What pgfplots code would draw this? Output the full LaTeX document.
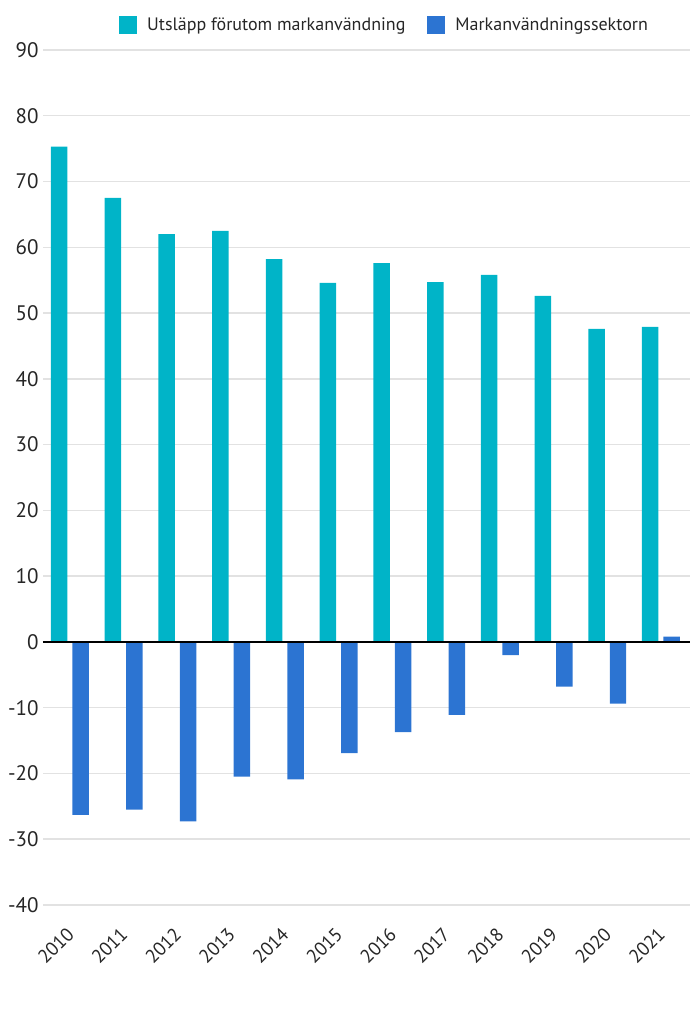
\documentclass[border=0pt]{standalone}
\usepackage{pgfplots}
\pgfplotsset{compat=1.18}
\usepackage{fontspec}
\setmainfont{PT Sans}
\definecolor{teal1}{RGB}{0,180,200}
\definecolor{blue1}{RGB}{44,116,210}
\definecolor{grid1}{RGB}{226,226,226}
\begin{document}
\begin{tikzpicture}
\useasboundingbox (-43pt,-119pt) rectangle (647pt,905pt);
\begin{axis}[
  at={(0pt,0pt)}, anchor=south west,
  scale only axis,
  width=647pt, height=855pt,
  xmin=-0.5, xmax=11.54,
  ymin=-40, ymax=90,
  ytick={-40,-30,...,90},
  xtick={0,...,11},
  xticklabels={2010,2011,2012,2013,2014,2015,2016,2017,2018,2019,2020,2021},
  axis line style={draw=none},
  major tick length=0pt,
  ymajorgrids, grid style={grid1, line width=1.5pt},
  yticklabel style={font=\fontsize{21}{21}\selectfont, text=black!85, xshift=-1pt},
  xticklabel style={font=\fontsize{19}{19}\selectfont, text=black!85, xshift=3pt, yshift=-23.5pt, rotate=45, anchor=east},
  /pgf/number format/assume math mode=true,
  legend style={at={(73pt,880pt)}, anchor=west, draw=none, fill=none,
    legend columns=2, font=\fontsize{18}{18}\selectfont, text=black!85,
    /tikz/every odd column/.append style={column sep=8pt},
    /tikz/every even column/.append style={column sep=20pt}},
  legend image code/.code={\fill[#1] (0pt,-9pt) rectangle (18pt,9pt);},
]
\addplot[ybar, bar width=0.307, bar shift=-0.2, fill=teal1, draw=none]
  coordinates {(0,75.3) (1,67.5) (2,62.0) (3,62.5) (4,58.2) (5,54.6)
               (6,57.6) (7,54.7) (8,55.8) (9,52.6) (10,47.6) (11,47.9)};
\addlegendentry{Utsläpp förutom markanvändning}
\addplot[ybar, bar width=0.307, bar shift=0.2, fill=blue1, draw=none]
  coordinates {(0,-26.3) (1,-25.5) (2,-27.3) (3,-20.5) (4,-20.9) (5,-16.9)
               (6,-13.7) (7,-11.1) (8,-2.0) (9,-6.8) (10,-9.4) (11,0.8)};
\addlegendentry{Markanvändningssektorn}
\draw[black, line width=2pt] (axis cs:-0.5,0) -- (axis cs:11.54,0);
\end{axis}
\end{tikzpicture}
\end{document}
